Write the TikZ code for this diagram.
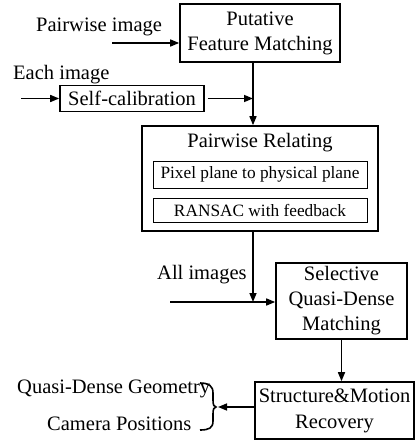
\documentclass[tikz,border=0pt]{standalone}
\usepackage{fontspec}
\setmainfont{Liberation Serif}
\usetikzlibrary{arrows.meta}
\begin{document}
\begin{tikzpicture}[x=1pt,y=-1pt,
  box/.style={draw, line width=1.6pt, inner sep=0pt, align=center, font=\fontsize{20.5}{25}\selectfont},
  sub/.style={draw, line width=0.9pt, inner sep=0pt, font=\fontsize{17.3}{20}\selectfont},
  lbl/.style={inner sep=0pt, anchor=base west, font=\fontsize{20.5}{25}\selectfont},
  arr/.style={line width=1.5pt, -{Triangle[length=9pt,width=7pt]}},
  ln/.style={line width=1.5pt}]
\useasboundingbox (0,0) rectangle (415,441);
% boxes
\node[box, minimum width=160pt, minimum height=58pt] (put) at (260,33) {Putative\\Feature Matching};
\node[box, minimum width=144pt, minimum height=26pt] (sc) at (132,98.5) {Self-calibration};
\node[box, minimum width=236pt, minimum height=105pt] (pr) at (260,178.5) {};
\node[inner sep=0pt, anchor=base, font=\fontsize{20.5}{25}\selectfont] (prt) at (260,147) {Pairwise Relating};
\node[sub, minimum width=214pt, minimum height=27pt] (pix) at (260,174.5) {Pixel plane to physical plane};
\node[sub, minimum width=214pt, minimum height=24pt] (ran) at (260,210) {RANSAC with feedback};
\node[box, minimum width=131pt, minimum height=76pt] (sel) at (341.5,301) {Selective\\Quasi-Dense\\Matching};
\node[box, minimum width=159pt, minimum height=57pt, font=\fontsize{20.5}{26}\selectfont] (sm) at (334.5,410.5) {Structure\&Motion\\Recovery};
% labels
\node[lbl] (pi) at (36,32) {Pairwise image};
\node[lbl] (ei) at (13,80) {Each image};
\node[lbl] (ai) at (157,279) {All images};
\node[lbl] (qd) at (17,393) {Quasi-Dense Geometry};
\node[lbl] (cp) at (47,430) {Camera Positions};
% connectors
\coordinate (pin) at (112,43);
\draw[arr] (pin) -- (put.west |- pin);
\coordinate (ein) at (21,98.5);
\draw[arr] (ein) -- (sc.west |- ein);
\coordinate (j1) at (253,98.5);
\draw[arr] ([xshift=3pt]sc.east) -- (j1);
\draw[arr] (put.south -| j1) -- (pr.north -| j1);
\coordinate (j2) at (253,302);
\draw[arr] (pr.south -| j2) -- (j2);
\coordinate (ain) at (170,302);
\draw[arr] (ain) -- (sel.west |- ain);
\draw[arr] (sel.south) -- (sm.north -| sel.south);
\coordinate (br) at (218,407);
\draw[arr] (sm.west |- br) -- (br);
% brace
\draw[line width=1.6pt] (200,383) .. controls (209,383) and (213,386) .. (213,393) -- (213,400) .. controls (213,405) and (214,407) .. (216,407) .. controls (214,407) and (213,409) .. (213,414) -- (213,421) .. controls (213,428) and (209,430) .. (200,430);
\end{tikzpicture}
\end{document}
